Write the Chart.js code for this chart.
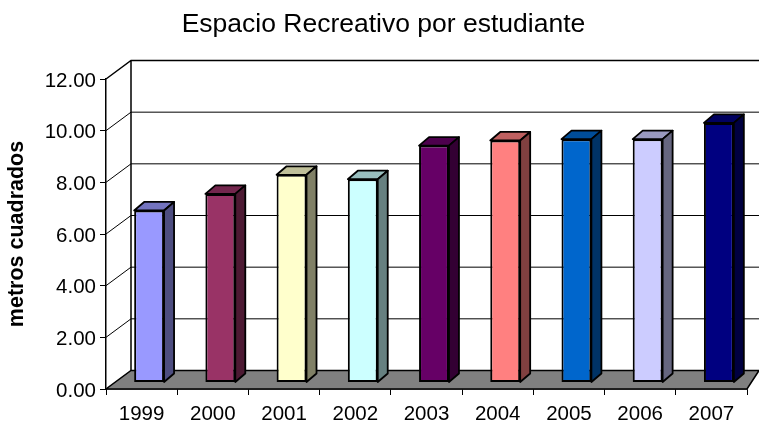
<!DOCTYPE html>
<html>
<head>
<meta charset="utf-8">
<style>
  html, body { margin: 0; padding: 0; background: #fff; }
  canvas { display: block; }
</style>
<script src="https://cdn.jsdelivr.net/npm/chart.js@4"></script>
</head>
<body>
<canvas id="espacioChart" width="759" height="421"></canvas>
<script>
const years = ['1999', '2000', '2001', '2002', '2003', '2004', '2005', '2006', '2007'];
const metros = [6.66, 7.3, 8.04, 7.87, 9.17, 9.37, 9.42, 9.42, 10.05];
const barColors = ['#9999FF', '#993366', '#FFFFCC', '#CCFFFF', '#660066', '#FF8080', '#0066CC', '#CCCCFF', '#000080'];

// depth of the box (px) and how far the bars sit inside it
const wallDx = 25, wallDy = -18.5, wallRightDx = 12;
const barShiftX = 7.5, barShiftY = -6.5;
const barDepthX = 10, barDepthY = -8.5;

function shade(hex, f) {
    const n = parseInt(hex.slice(1), 16);
    const r = Math.round((n >> 16) * f), g = Math.round(((n >> 8) & 255) * f), b = Math.round((n & 255) * f);
    return 'rgb(' + r + ',' + g + ',' + b + ')';
}

function poly(ctx, pts, fill) {
    ctx.beginPath();
    pts.forEach((p, i) => i ? ctx.lineTo(p[0], p[1]) : ctx.moveTo(p[0], p[1]));
    ctx.closePath();
    if (fill) { ctx.fillStyle = fill; ctx.fill(); }
    ctx.stroke();
}

const box3d = {
    id: 'box3d',
    afterLayout(chart) {
        // the title sits a bit right of the canvas centre
        chart.titleBlock.left += 20;
    },
    beforeDatasetsDraw(chart) {
        const ctx = chart.ctx, y = chart.scales.y, a = chart.chartArea;
        ctx.save();
        ctx.strokeStyle = '#000';
        ctx.lineWidth = 1;
        // gridlines on the side wall and back wall, skipping the floor and the top edge
        y.ticks.forEach(t => {
            if (t.value === 0 || t.value === 12) return;
            const py = y.getPixelForValue(t.value);
            ctx.beginPath();
            ctx.moveTo(a.left, py);
            ctx.lineTo(a.left + wallDx, py + wallDy);
            ctx.lineTo(a.right + wallRightDx, py + wallDy);
            ctx.stroke();
        });
        ctx.lineWidth = 1.5;
        const top = y.getPixelForValue(12), base = y.getPixelForValue(0);
        ctx.beginPath();
        ctx.moveTo(a.left, top);
        ctx.lineTo(a.left + wallDx, top + wallDy);
        ctx.lineTo(a.right + wallRightDx, top + wallDy);
        ctx.moveTo(a.left + wallDx, top + wallDy);
        ctx.lineTo(a.left + wallDx, base + wallDy);
        ctx.stroke();
        poly(ctx, [[a.left, base], [a.right, base], [a.right + wallRightDx, base + wallDy], [a.left + wallDx, base + wallDy]], '#808080');
        ctx.translate(barShiftX, barShiftY);
    },
    afterDatasetsDraw(chart) {
        const ctx = chart.ctx;
        ctx.strokeStyle = '#000';
        ctx.lineWidth = 1.8;
        ctx.lineJoin = 'round';
        chart.getDatasetMeta(0).data.forEach((bar, i) => {
            const l = bar.x - bar.width / 2, r = bar.x + bar.width / 2;
            poly(ctx, [[l, bar.y], [r, bar.y], [r + barDepthX, bar.y + barDepthY], [l + barDepthX, bar.y + barDepthY]], shade(barColors[i], 0.75));
            poly(ctx, [[r, bar.y], [r + barDepthX, bar.y + barDepthY], [r + barDepthX, bar.base + barDepthY], [r, bar.base]], shade(barColors[i], 0.5));
        });
        ctx.restore();
    }
};

new Chart(document.getElementById('espacioChart').getContext('2d'), {
    type: 'bar',
    data: {
        labels: years,
        datasets: [{
            label: 'metros cuadrados',
            data: metros,
            backgroundColor: barColors,
            borderColor: '#000',
            borderWidth: 2,
            borderSkipped: false,
            categoryPercentage: 1,
            barPercentage: 0.42
        }]
    },
    options: {
        responsive: false,
        animation: false,
        layout: { padding: { right: 12 } },
        plugins: {
            legend: { display: false },
            tooltip: { enabled: false },
            title: {
                display: true,
                text: 'Espacio Recreativo por estudiante',
                color: '#000',
                font: { family: 'Liberation Sans', size: 26.5, weight: 'normal', lineHeight: 1.2 },
                padding: { top: 9, bottom: 38.2 }
            }
        },
        scales: {
            x: {
                afterFit: s => { s.height = 32; },
                grid: { drawOnChartArea: false, color: '#000', tickLength: 6, lineWidth: 1 },
                border: { color: '#000', width: 1.5 },
                ticks: { color: '#000', padding: 7, maxRotation: 0, font: { family: 'Liberation Sans', size: 20.5 } }
            },
            y: {
                min: 0,
                max: 12,
                afterFit: s => { s.width = 106; },
                title: {
                    display: true,
                    text: 'metros cuadrados',
                    color: '#000',
                    padding: { top: 4, bottom: 0 },
                    font: { family: 'Liberation Sans', size: 21.5, weight: 'bold', lineHeight: 1.2 }
                },
                grid: { drawOnChartArea: false, color: '#000', tickLength: 6, lineWidth: 1 },
                border: { color: '#000', width: 1.5 },
                ticks: {
                    stepSize: 2,
                    color: '#000',
                    padding: 4,
                    labelOffset: 2,
                    font: { family: 'Liberation Sans', size: 20.5 },
                    callback: v => v.toFixed(2)
                }
            }
        }
    },
    plugins: [box3d]
});
</script>
</body>
</html>
